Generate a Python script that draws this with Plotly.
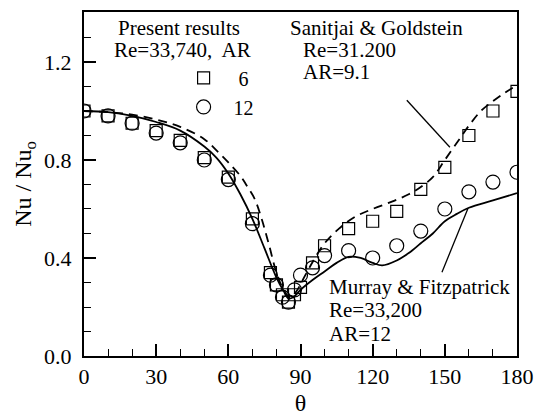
import plotly.graph_objects as go

# Measured local Nusselt ratio, present results (Re = 33,740)
theta_exp = [0, 10, 20, 30, 40, 50, 60, 70, 77.5, 80, 82.5, 85, 87.5, 90, 95, 100,
             110, 120, 130, 140, 150, 160, 170, 180]
nu_ar6 = [1.00, 0.98, 0.95, 0.92, 0.88, 0.81, 0.73, 0.56, 0.34, 0.29, 0.25, 0.22,
          0.25, 0.28, 0.38, 0.45, 0.52, 0.55, 0.59, 0.68, 0.77, 0.90, 1.00, 1.08]
nu_ar12 = [1.00, 0.98, 0.95, 0.91, 0.87, 0.80, 0.72, 0.54, 0.33, 0.29, 0.24, 0.22,
           0.27, 0.33, 0.36, 0.41, 0.43, 0.40, 0.45, 0.51, 0.60, 0.67, 0.71, 0.75]

# Sanitjai & Goldstein, Re = 31,200, AR = 9.1
theta_sg = [0, 10, 20, 30, 40, 50, 56, 60, 65, 68, 71, 74, 77, 80, 83, 85.5, 88, 92,
            96, 100, 106, 113, 120, 128, 135, 140, 145, 150, 155, 160, 165, 170, 175, 180]
nu_sg = [1.00, 0.995, 0.985, 0.965, 0.935, 0.885, 0.83, 0.79, 0.735, 0.69, 0.64, 0.555,
         0.45, 0.34, 0.27, 0.24, 0.26, 0.33, 0.40, 0.46, 0.52, 0.57, 0.60, 0.63, 0.66,
         0.69, 0.73, 0.80, 0.87, 0.94, 1.00, 1.04, 1.075, 1.105]

# Murray & Fitzpatrick, Re = 33,200, AR = 12
theta_mf = [0, 10, 20, 30, 40, 50, 55, 60, 65, 70, 75, 80, 83, 85, 87, 90, 95, 100, 105,
            110, 115, 120, 124, 130, 135, 140, 145, 150, 155, 160, 170, 180]
nu_mf = [1.00, 0.995, 0.98, 0.955, 0.92, 0.855, 0.81, 0.745, 0.66, 0.56, 0.44, 0.32,
         0.265, 0.235, 0.24, 0.27, 0.31, 0.345, 0.38, 0.405, 0.40, 0.38, 0.37, 0.39,
         0.42, 0.46, 0.50, 0.55, 0.58, 0.605, 0.635, 0.665]

x_ticks = [0, 30, 60, 90, 120, 150, 180]
y_ticks = [0.0, 0.4, 0.8, 1.2]
y_tick_text = ["0.0", "0.4", "0.8", "1.2"]

FONT = "Liberation Serif"
INK = "black"

fig = go.Figure()

fig.add_trace(go.Scatter(
    x=theta_sg, y=nu_sg, mode="lines", line_shape="spline",
    line=dict(color=INK, width=1.8, dash="9px,6px"), showlegend=False))
fig.add_trace(go.Scatter(
    x=theta_mf, y=nu_mf, mode="lines", line_shape="spline",
    line=dict(color=INK, width=1.8), showlegend=False))
fig.add_trace(go.Scatter(
    x=theta_exp, y=nu_ar6, mode="markers", name="\u00a0\u00a0\u00a06",
    marker=dict(symbol="square-open", size=12, color=INK, line=dict(width=1.2))))
fig.add_trace(go.Scatter(
    x=theta_exp, y=nu_ar12, mode="markers", name="\u00a0\u00a012",
    marker=dict(symbol="circle-open", size=14, color=INK, line=dict(width=1.2))))

# Leader lines from the reference labels to their curves
leaders = [((134.2, 1.044), (152.1, 0.852)),
           ((148.8, 0.342), (159.6, 0.602))]
for (x0, y0), (x1, y1) in leaders:
    fig.add_shape(type="line", x0=x0, y0=y0, x1=x1, y1=y1,
                  line=dict(color=INK, width=1.3))

labels = [
    ("Present results", 13.3, 1.337),
    ("Re=33,740,  AR", 11.6, 1.248),
    ("Sanitjai & Goldstein", 85.0, 1.337),
    ("Re=31.200", 90.0, 1.248),
    ("AR=9.1", 90.0, 1.158),
    ("Murray & Fitzpatrick", 101.0, 0.281),
    ("Re=33,200", 101.0, 0.187),
    ("AR=12", 101.0, 0.089),
]
for text, x, y in labels:
    fig.add_annotation(x=x, y=y, text=text, showarrow=False, xanchor="left",
                       yanchor="middle", font=dict(family=FONT, size=21, color=INK))

fig.update_layout(
    width=544, height=419,
    margin=dict(l=84, r=27, t=12, b=63),
    paper_bgcolor="white", plot_bgcolor="white",
    font=dict(family=FONT, color=INK),
    legend=dict(x=0.23, y=0.865, xanchor="left", yanchor="top",
                bgcolor="rgba(0,0,0,0)", font=dict(family=FONT, size=20),
                itemwidth=30, tracegroupgap=0),
    xaxis=dict(range=[0, 180], tickvals=x_ticks, ticks="inside", ticklen=12,
               tickwidth=1.5, tickcolor=INK, showgrid=False, zeroline=False,
               showline=True, linecolor=INK, linewidth=2, mirror=True,
               tickfont=dict(family=FONT, size=22),
               minor=dict(dtick=10, ticks="inside", ticklen=7, tickwidth=1.3,
                          tickcolor=INK),
               title=dict(text="\u03b8", font=dict(family=FONT, size=24), standoff=6),
               automargin=False),
    yaxis=dict(range=[0, 1.404], tickvals=y_ticks, ticktext=y_tick_text,
               ticks="inside", ticklen=12, tickwidth=1.5, tickcolor=INK,
               showgrid=False, zeroline=False, showline=True, linecolor=INK,
               linewidth=2, mirror=True, tickfont=dict(family=FONT, size=22),
               ticklabelstandoff=6,
               minor=dict(dtick=0.1, ticks="inside", ticklen=7, tickwidth=1.3,
                          tickcolor=INK),
               title=dict(text="Nu / Nu<sub>o</sub>", font=dict(family=FONT, size=24),
                          standoff=6),
               automargin=False),
)

fig.write_html("out.html")
